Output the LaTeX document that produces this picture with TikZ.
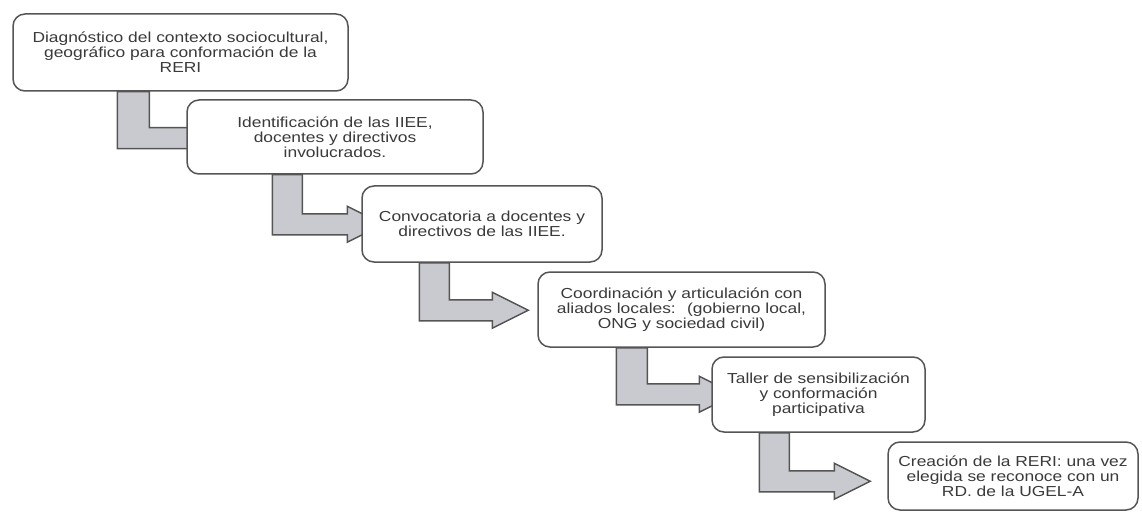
\documentclass[tikz,border=0pt]{standalone}
\usepackage{fontspec}
\setmainfont{Liberation Sans}[FakeStretch=1.2]
\usetikzlibrary{calc,backgrounds}
\definecolor{borde}{HTML}{555555}
\definecolor{relleno}{HTML}{C9CACF}
\definecolor{texto}{HTML}{3A3A3A}
\tikzset{
  paso/.style={draw=borde, line width=1.5pt, rounded corners=12pt, fill=white,
    align=center, text=texto, inner sep=0pt,
    font=\fontsize{14.5}{15}\selectfont},
  flecha/.style={draw=borde, line width=1.5pt, fill=relleno}
}
\begin{document}
\begin{tikzpicture}[x=1pt, y=-1pt]
\useasboundingbox (0,0) rectangle (1142,513);

\node[paso, minimum width=335pt, minimum height=77pt] (b1) at (180.5,52.5)
  {Diagnóstico del contexto sociocultural,\\geográfico para conformación de la\\RERI};
\node[paso, minimum width=296pt, minimum height=74pt] (b2) at (335,137)
  {Identificación de las IIEE,\\docentes y directivos\\involucrados.};
\node[paso, minimum width=240pt, minimum height=76pt] (b3) at (482,224)
  {Convocatoria a docentes y\\directivos de las IIEE.};
\node[paso, minimum width=287pt, minimum height=75pt] (b4) at (681.5,309.5)
  {Coordinación y articulación con\\aliados locales:~ (gobierno local,\\ONG y sociedad civil)};
\node[paso, minimum width=213pt, minimum height=75pt] (b5) at (818.5,394.5)
  {Taller de sensibilización\\y conformación\\participativa};
\node[paso, minimum width=250pt, minimum height=68pt] (b6) at (1013,476)
  {Creación de la RERI: una vez\\elegida se reconoce con un\\RD. de la UGEL-A};

\begin{scope}[on background layer]
\draw[flecha]
($(b1.south west)+(105,0)$) -- ++(32,0) -- ++(0,36)
-- ++(40,0) -- ++(0,-7.5) -- ++(36,18) -- ++(-36,18) -- ++(0,-7.5)
-- ++(-72,0) -- cycle;
\draw[flecha]
($(b2.south west)+(86,0)$) -- ++(30,0) -- ++(0,39)
-- ++(45,0) -- ++(0,-7.5) -- ++(36,18) -- ++(-36,18) -- ++(0,-7.5)
-- ++(-75,0) -- cycle;
\draw[flecha]
($(b3.south west)+(58,0)$) -- ++(30,0) -- ++(0,37)
-- ++(43,0) -- ++(0,-7.5) -- ++(36,18) -- ++(-36,18) -- ++(0,-7.5)
-- ++(-73,0) -- cycle;
\draw[flecha]
($(b4.south west)+(79,0)$) -- ++(31,0) -- ++(0,36)
-- ++(52,0) -- ++(0,-7.5) -- ++(36,18) -- ++(-36,18) -- ++(0,-7.5)
-- ++(-83,0) -- cycle;
\draw[flecha]
($(b5.south west)+(48,0)$) -- ++(30,0) -- ++(0,38)
-- ++(45,0) -- ++(0,-7.5) -- ++(36,18) -- ++(-36,18) -- ++(0,-7.5)
-- ++(-75,0) -- cycle;
\end{scope}

\end{tikzpicture}
\end{document}
